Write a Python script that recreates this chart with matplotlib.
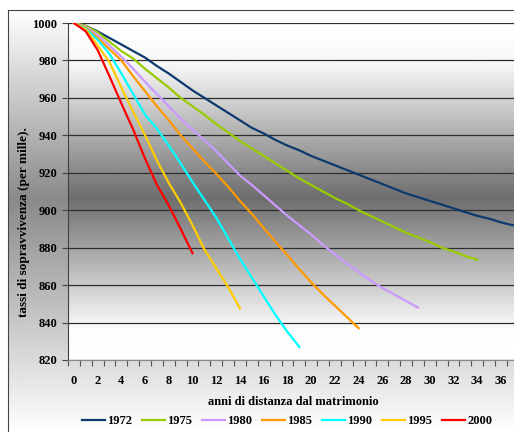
import numpy as np
import matplotlib.pyplot as plt

# survival rates (per mille) by years since marriage, one series per marriage cohort
anni = list(range(38))
coorti = ['1972', '1975', '1980', '1985', '1990', '1995', '2000']

s1972 = [1000, 998.5, 995.5, 992, 988.5, 985, 981.5, 977, 973, 968.5,
         964, 960, 956, 952, 948, 944, 941, 937.5, 934.5, 932,
         929, 926.5, 924, 921.5, 919, 916.5, 914, 911.5, 909, 907,
         905, 903, 901, 899, 897, 895.5, 893.5, 892]
s1975 = [1000, 998.5, 995, 990, 985, 981, 975.5, 970.5, 965.5, 960,
         955.5, 951, 946, 941.5, 937, 933, 929, 925, 921, 917,
         913.5, 910, 906.5, 903.5, 900, 897, 894, 891, 888, 885.5,
         883, 880, 878, 875.5, 873.5]
s1980 = [1000, 998, 993.5, 988, 982, 975.5, 968.5, 962, 955.5, 949,
         943, 937.5, 931.5, 925, 918.5, 913.5, 908, 902.5, 897, 892,
         887, 881.5, 876.5, 871.5, 867, 862.5, 858.5, 855, 851.5, 848]
s1985 = [1000, 997.5, 992, 986, 980, 971.5, 963.5, 955.5, 948, 940,
         933, 926, 919.5, 912.5, 905, 898, 890.5, 883, 876, 868.5,
         861.5, 855, 849, 843, 837]
s1990 = [1000, 997, 991, 983.5, 973, 962, 951, 943.5, 934.5, 925,
         915, 905.5, 896, 885, 874, 864, 854, 844, 835, 827]
s1995 = [1000, 996.5, 988, 979, 965.5, 952.5, 940, 926.5, 914.5, 904,
         892, 879, 869, 859, 847.5]
s2000 = [1000, 995.5, 985.5, 971.5, 957, 943, 927.5, 913.5, 902.5, 890,
         877]

serie = [s1972, s1975, s1980, s1985, s1990, s1995, s2000]
colori = ['#0d3a6e', '#99cc00', '#cc99ff', '#ff9900', '#00ffff', '#ffcc00', '#ff0000']

plt.rcParams['font.family'] = ['Liberation Serif', 'DejaVu Serif']
plt.rcParams['font.weight'] = 'bold'

W, H = 514, 432
fig = plt.figure(figsize=(W / 100, H / 100), dpi=100)
fig.patch.set_facecolor('white')

# chart area background: vertical gray gradient with a frame on the left/top
bg = fig.add_axes([8 / W, 0, 1 - 8 / W, 422 / H], zorder=-2)
rows = np.linspace(0, 1, 400)  # 0 = top
g = np.interp(rows, [0, 0.45, 1], [1.0, 0.54, 1.0])
bg.imshow(g[:, None], cmap='gray', vmin=0, vmax=1, aspect='auto',
          extent=[0, 1, 0, 1], interpolation='bilinear')
bg.set_xlim(0, 1)
bg.set_ylim(0, 1)
bg.set_xticks([])
bg.set_yticks([])
for side in ['right', 'bottom']:
    bg.spines[side].set_visible(False)
bg.spines['left'].set_color('#444444')
bg.spines['top'].set_color('#444444')

# plot area
ax = fig.add_axes([68 / W, (H - 360) / H, (W - 68) / W, 337 / H])
ax.set_facecolor('none')
rows = np.linspace(0, 1, 400)  # 0 = bottom
g2 = np.interp(rows, [0, 0.09, 0.48, 0.88, 1], [1.0, 0.99, 0.43, 0.97, 1.0])
ax.imshow(g2[::-1, None], cmap='gray', vmin=0, vmax=1, aspect='auto',
          extent=[0, 1, 0, 1], transform=ax.transAxes, zorder=0,
          interpolation='bilinear')

for valori, nome, col in zip(serie, coorti, colori):
    ax.plot(anni[:len(valori)], valori, color=col, linewidth=1.6,
            label=nome, zorder=3)

ax.set_xlim(-0.5, 37.1)
ax.set_ylim(820, 1000)

ax.set_yticks(np.arange(820, 1001, 20))
ax.yaxis.grid(True, color='#2e2e2e', linewidth=0.9, zorder=1)
ax.set_axisbelow(True)
ax.tick_params(axis='y', direction='out', length=4, width=0.8, color='#444444',
               pad=4, labelsize=9)

ax.set_xticks(np.arange(0, 37, 2))
ax.set_xticks(np.arange(-0.5, 37.1, 1), minor=True)
ax.tick_params(axis='x', which='major', length=0, pad=11, labelsize=9)
ax.tick_params(axis='x', which='minor', direction='out', length=4, width=0.8,
               color='#555555')

for lab in ax.get_xticklabels() + ax.get_yticklabels():
    lab.set_fontweight('bold')

ax.spines['top'].set_visible(False)
ax.spines['right'].set_visible(False)
ax.spines['left'].set_color('#404040')
ax.spines['bottom'].set_color('#888888')

fig.text(24 / W, (H - 222) / H, 'tassi di sopravvivenza (per mille).',
         rotation=90, ha='center', va='center', fontsize=9.5, fontweight='bold')
fig.text(293 / W, (H - 402) / H, 'anni di distanza dal matrimonio',
         ha='center', va='center', fontsize=9, fontweight='bold')

leg = fig.legend(loc='center', bbox_to_anchor=(287 / W, (H - 421) / H), ncol=7,
                 frameon=False, fontsize=9, handlelength=1.8, handletextpad=0.2,
                 columnspacing=0.8)
for t in leg.get_texts():
    t.set_fontweight('bold')

fig.savefig('out.png', dpi=100)
